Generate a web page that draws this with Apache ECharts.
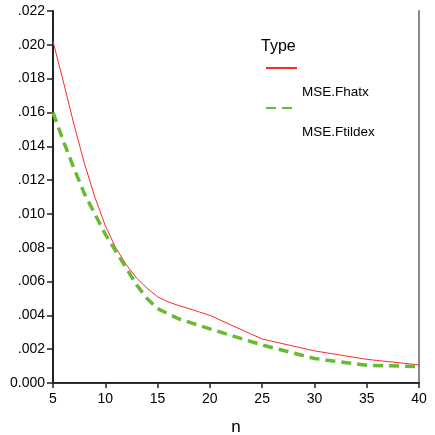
<!DOCTYPE html>
<html>
<head>
<meta charset="utf-8">
<script src="https://cdn.jsdelivr.net/npm/echarts@6/dist/echarts.min.js"></script>
<style>
  html, body { margin: 0; padding: 0; background: #fff; }
  #chart { width: 435px; height: 435px; }
</style>
</head>
<body>
<div id="chart"></div>
<script>
// sample sizes n
const nValues = [5, 6, 7, 8, 9, 10, 11, 12, 13, 14, 15, 16, 17, 18, 19, 20, 25, 30, 35, 40]

// MSE values
const mseFhatx = [
  0.0202, 0.0178, 0.0153, 0.0130, 0.0110, 0.0093, 0.0080, 0.0070, 0.0062, 0.0056,
  0.0051, 0.0048, 0.00458, 0.0044, 0.0042, 0.0040, 0.0026, 0.0019, 0.0014, 0.00107
]
const mseFtildex = [
  0.0160, 0.0143, 0.0127, 0.0112, 0.0100, 0.0088, 0.0078, 0.0068, 0.0058, 0.0050,
  0.0044, 0.0041, 0.0038, 0.0036, 0.0034, 0.0032, 0.00225, 0.00145, 0.00105, 0.00097
]

const seriesNames = ['MSE.Fhatx', 'MSE.Ftildex']
const FONT = 'Liberation Sans, Arial, sans-serif'

const chart = echarts.init(document.getElementById('chart'))

function pairs(ys) {
  return nValues.map((n, i) => [n, ys[i]])
}

function yLabel(v) {
  if (v === 0) return '0.000'
  return v.toFixed(3).replace(/^0/, '')
}

chart.setOption({
  animation: false,
  backgroundColor: '#fff',
  title: {
    text: 'Type',
    left: 261,
    top: 39,
    padding: 0,
    textStyle: { fontFamily: FONT, fontSize: 16, fontWeight: 'normal', color: '#000' }
  },
  legend: {
    orient: 'vertical',
    left: 265,
    top: 20,
    padding: 0,
    itemWidth: 31,
    itemHeight: 8,
    itemGap: -56,
    data: seriesNames,
    itemStyle: { opacity: 0 },
    // label sits under the line sample, like the original legend
    formatter: name => '\n' + name,
    textStyle: {
      fontFamily: FONT,
      fontSize: 13.5,
      lineHeight: 48,
      color: '#000'
    }
  },
  grid: { left: 53, right: 16, top: 11, bottom: 52, outerBoundsMode: 'none' },
  xAxis: [
    {
      type: 'value',
      min: 5,
      max: 40,
      interval: 5,
      name: 'n',
      nameLocation: 'middle',
      nameGap: 36,
      nameTextStyle: { fontFamily: FONT, fontSize: 17, color: '#000' },
      axisLine: { lineStyle: { color: '#222', width: 2 } },
      axisTick: { length: 5, lineStyle: { color: '#222', width: 1.5 } },
      axisLabel: { margin: 9, fontFamily: FONT, fontSize: 14, color: '#000' },
      splitLine: { show: false }
    },
    {
      type: 'value',
      position: 'top',
      min: 5,
      max: 40,
      axisLine: { show: true, lineStyle: { color: '#333', width: 1 } },
      axisTick: { show: false },
      axisLabel: { show: false },
      splitLine: { show: false }
    }
  ],
  yAxis: [
    {
      type: 'value',
      min: 0,
      max: 0.022,
      interval: 0.002,
      axisLine: { show: true, lineStyle: { color: '#222', width: 2 } },
      axisTick: { show: true, length: 6, lineStyle: { color: '#222', width: 1.5 } },
      axisLabel: { margin: 8, fontFamily: FONT, fontSize: 14, color: '#000', formatter: yLabel },
      splitLine: { show: false }
    },
    {
      type: 'value',
      position: 'right',
      min: 0,
      max: 0.022,
      axisLine: { show: true, lineStyle: { color: '#888', width: 2 } },
      axisTick: { show: false },
      axisLabel: { show: false },
      splitLine: { show: false }
    }
  ],
  series: [
    {
      name: seriesNames[0],
      type: 'line',
      symbol: 'none',
      data: pairs(mseFhatx),
      lineStyle: { color: '#ff2a2a', width: 1 },
      itemStyle: { color: '#ff2a2a' }
    },
    {
      name: seriesNames[1],
      type: 'line',
      symbol: 'none',
      data: pairs(mseFtildex),
      lineStyle: { color: '#66bb33', width: 3.5, type: [10, 6] },
      itemStyle: { color: '#66bb33' }
    }
  ]
})
</script>
</body>
</html>
